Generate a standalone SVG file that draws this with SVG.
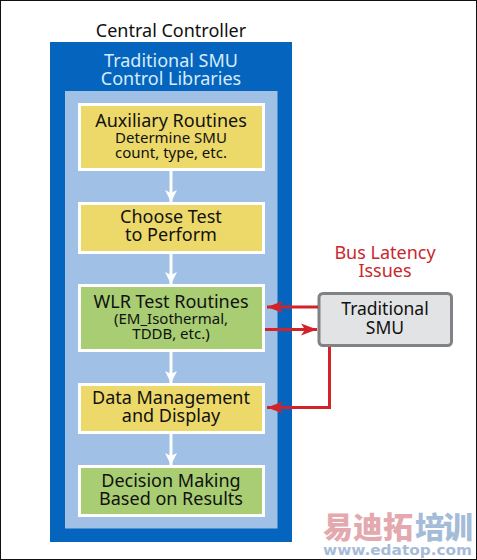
<svg xmlns="http://www.w3.org/2000/svg" width="477" height="560" viewBox="0 0 477 560">
<style>
text{font-family:"Noto Sans","Open Sans","Liberation Sans",sans-serif;text-anchor:middle;fill:#111}
.t{font-size:18px}
.s{font-size:15px}
.box{stroke:#fff;stroke-width:3}
.y{fill:#ecd969}
.g{fill:#a8cd72}
.w{stroke:#fff;stroke-width:3;fill:none}
.r{stroke:#d2232a;stroke-width:3;fill:none}
</style>
<defs>
<marker id="wa" markerUnits="userSpaceOnUse" markerWidth="14" markerHeight="14" refX="12" refY="7" orient="auto"><path d="M0 1L12 7L0 13L3 7Z" fill="#fff"/></marker>
<marker id="ra" markerUnits="userSpaceOnUse" markerWidth="18" markerHeight="14" refX="16" refY="7" orient="auto"><path d="M0 1L16 7L0 13L4 7Z" fill="#d2232a"/></marker>
</defs>
<rect x="0.5" y="0.5" width="476" height="559" fill="#fff" stroke="#111"/>
<g id="central-controller">
<text x="171" y="36.500" class="t">Central Controller</text>
<rect x="50" y="42" width="242" height="500" fill="#0565be"/>
<text x="171" y="66.500" class="t" style="fill:#d6ecfa">Traditional SMU</text>
<text x="171" y="84.500" class="t" style="fill:#d6ecfa">Control Libraries</text>
<rect x="65" y="91" width="212.500" height="437.500" fill="#a0c0e6"/>
</g>
<g id="auxiliary">
<rect x="79.500" y="104.500" width="184" height="65" class="box y"/>
<text x="171" y="126.500" class="t">Auxiliary Routines</text>
<text x="171" y="142.500" class="s">Determine SMU</text>
<text x="171" y="157.500" class="s">count, type, etc.</text>
</g>
<g id="choose-test">
<rect x="79.500" y="203.500" width="184" height="49" class="box y"/>
<text x="171" y="223" class="t">Choose Test</text>
<text x="171" y="241" class="t">to Perform</text>
</g>
<g id="wlr">
<rect x="79.500" y="285.500" width="184" height="65" class="box g"/>
<text x="171" y="308" class="t">WLR Test Routines</text>
<text x="171" y="324" class="s">(EM_Isothermal,</text>
<text x="171" y="339" class="s">TDDB, etc.)</text>
</g>
<g id="data-management">
<rect x="79.500" y="384.500" width="184" height="48" class="box y"/>
<text x="171" y="404" class="t">Data Management</text>
<text x="171" y="422" class="t">and Display</text>
</g>
<g id="decision">
<rect x="79.500" y="466.500" width="184" height="49" class="box g"/>
<text x="171" y="487" class="t">Decision Making</text>
<text x="171" y="505" class="t">Based on Results</text>
</g>
<g id="traditional-smu">
<rect x="319" y="293.500" width="132.500" height="52" rx="4" fill="#e2e3e5" stroke="#808285" stroke-width="3"/>
<text x="385" y="315" style="font-size:17.500px">Traditional</text>
<text x="385" y="334" style="font-size:17.500px">SMU</text>
</g>
<g id="bus-latency">
<text x="385" y="258.500" class="t" style="fill:#c8282d">Bus Latency</text>
<text x="385" y="276.500" class="t" style="fill:#c8282d">Issues</text>
</g>
<g id="connectors">
<path d="M171 171V202" class="w" marker-end="url(#wa)"/>
<path d="M171 254V284" class="w" marker-end="url(#wa)"/>
<path d="M171 352V383" class="w" marker-end="url(#wa)"/>
<path d="M171 434V465" class="w" marker-end="url(#wa)"/>
<path d="M318 307H267" class="r" marker-end="url(#ra)"/>
<path d="M265 329.500H317" class="r" marker-end="url(#ra)"/>
<path d="M329.500 347V407.500H267" class="r" marker-end="url(#ra)"/>
</g>
<g id="watermark">
<text x="323" y="538" style="font-family:'Noto Sans CJK SC',sans-serif;font-size:30px;font-weight:900;text-anchor:start;fill:#e3a9ae" textLength="90">易迪拓</text>
<text x="415" y="538" style="font-family:'Noto Sans CJK SC',sans-serif;font-size:30px;font-weight:900;text-anchor:start;fill:#a5bcd8" textLength="58">培训</text>
<text x="323" y="554.500" style="font-family:'DejaVu Sans',sans-serif;font-size:14.500px;font-weight:700;text-anchor:start;fill:#a5bcd8" textLength="149" lengthAdjust="spacingAndGlyphs">www.edatop.com</text>
</g>
</svg>
